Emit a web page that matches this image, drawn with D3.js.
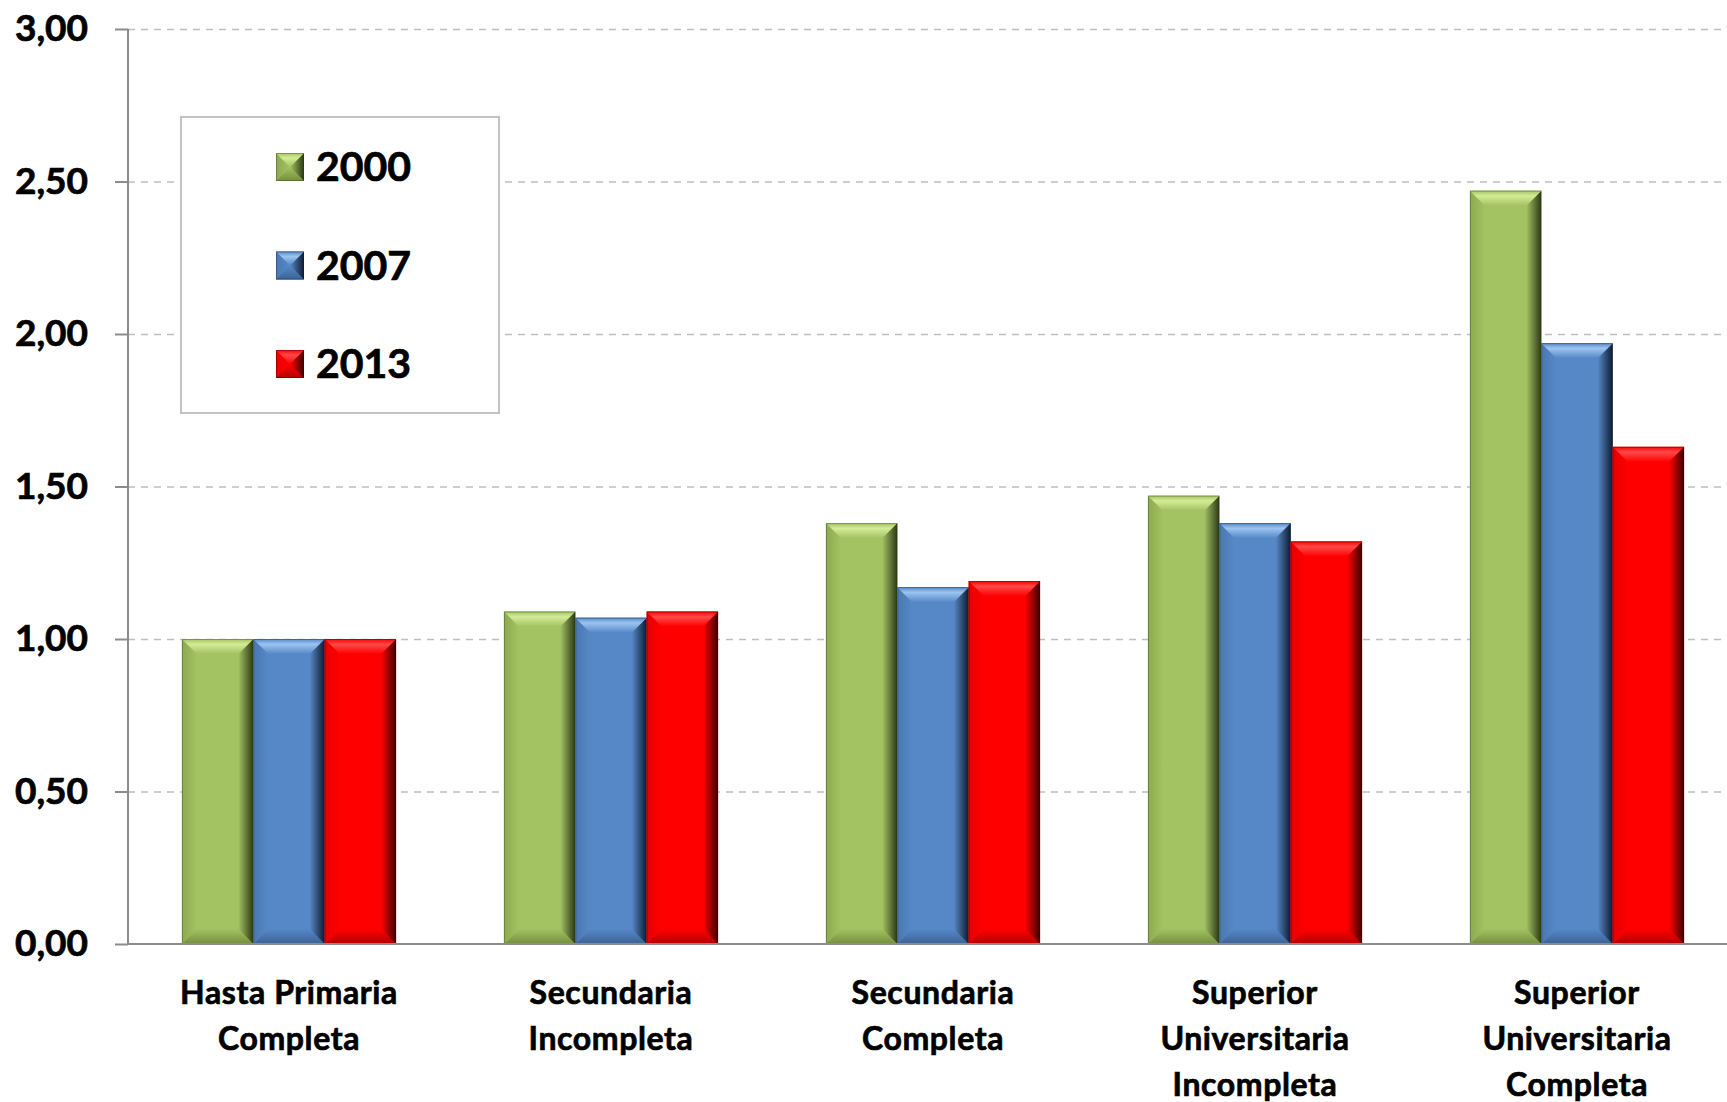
<!DOCTYPE html>
<html>
<head>
<meta charset="utf-8">
<script src="https://cdn.jsdelivr.net/npm/d3@7"></script>
<style>
  html, body { margin: 0; padding: 0; background: #ffffff; }
  svg { display: block; }
  text { font-family: "Lato", "Open Sans", sans-serif; font-weight: 700; fill: #000; stroke: #000; stroke-width: 0.7px; }
</style>
</head>
<body>
<svg id="chart" width="1727" height="1102"></svg>
<script>
// Education levels (multi-line labels) and yearly index values
const categories = [
  "Hasta Primaria\nCompleta",
  "Secundaria\nIncompleta",
  "Secundaria\nCompleta",
  "Superior\nUniversitaria\nIncompleta",
  "Superior\nUniversitaria\nCompleta"
];
const years = ["2000", "2007", "2013"];
const values2000 = [1.00, 1.09, 1.38, 1.47, 2.47];
const values2007 = [1.00, 1.07, 1.17, 1.38, 1.97];
const values2013 = [1.00, 1.09, 1.19, 1.32, 1.63];
const yTicks = [0, 0.5, 1, 1.5, 2, 2.5, 3];

const seriesValues = [values2000, values2007, values2013];

// Fill palettes: base, highlight, shadow, deep shadow
const palettes = {
  "2000": { base: "#a3c262", light: "#d3ec96", left: "#8ea94f", bottom: "#748f3d", dark: "#2c3816" },
  "2007": { base: "#5688c8", light: "#9cc4f0", left: "#4a77b0", bottom: "#3b6394", dark: "#0e1c30" },
  "2013": { base: "#ff0000", light: "#ff4a4a", left: "#e60000", bottom: "#b00000", dark: "#3a0000" }
};

const svg = d3.select("#chart");
const defs = svg.append("defs");

years.forEach(yr => {
  const p = palettes[yr];
  const top = defs.append("linearGradient").attr("id", "top-" + yr)
    .attr("x1", 0).attr("y1", 0).attr("x2", 0).attr("y2", 1);
  top.append("stop").attr("offset", "0%").attr("stop-color", p.base);
  top.append("stop").attr("offset", "35%").attr("stop-color", p.light);
  top.append("stop").attr("offset", "100%").attr("stop-color", p.base);

  const right = defs.append("linearGradient").attr("id", "right-" + yr)
    .attr("x1", 0).attr("y1", 0).attr("x2", 1).attr("y2", 0);
  right.append("stop").attr("offset", "0%").attr("stop-color", p.base);
  right.append("stop").attr("offset", "100%").attr("stop-color", p.dark);

  const bottom = defs.append("linearGradient").attr("id", "bottom-" + yr)
    .attr("x1", 0).attr("y1", 0).attr("x2", 0).attr("y2", 1);
  bottom.append("stop").attr("offset", "0%").attr("stop-color", p.base);
  bottom.append("stop").attr("offset", "100%").attr("stop-color", p.bottom);

  const left = defs.append("linearGradient").attr("id", "left-" + yr)
    .attr("x1", 0).attr("y1", 0).attr("x2", 1).attr("y2", 0);
  left.append("stop").attr("offset", "0%").attr("stop-color", p.left);
  left.append("stop").attr("offset", "100%").attr("stop-color", p.base);
});

// Scales
const plotLeft = 128, plotRight = 1738, plotTop = 29, plotBottom = 944;
const x = d3.scaleBand().domain(categories).range([plotLeft, plotRight])
  .paddingInner(0.335).paddingOuter(0.1675);
const xs = d3.scaleBand().domain(years).range([0, x.bandwidth()]);
const y = d3.scaleLinear().domain([0, 3]).range([plotBottom, plotTop]);

const fmt = v => d3.format(".2f")(v).replace(".", ",");

// Dashed gridlines
const grid = svg.append("g").attr("transform", `translate(${plotLeft},0)`)
  .call(d3.axisRight(y).tickValues(yTicks.filter(t => t > 0)).tickSize(1727 - plotLeft).tickFormat(""));
grid.select(".domain").remove();
grid.selectAll(".tick line").attr("stroke", "#bfbfbf").attr("stroke-width", 1.6)
  .attr("stroke-dasharray", "7,6");

// Bevelled bar drawing
function bevelBar(g, bx, by, w, h, yr, bevel) {
  const b = Math.min(bevel, w / 2, h / 2);
  const pts = a => a.map(p => p.join(",")).join(" ");
  g.append("rect").attr("x", bx).attr("y", by).attr("width", w).attr("height", h)
    .attr("fill", palettes[yr].base);
  g.append("polygon").attr("points", pts([[bx, by], [bx + b, by + b], [bx + b, by + h - b], [bx, by + h]]))
    .attr("fill", `url(#left-${yr})`);
  g.append("polygon").attr("points", pts([[bx, by + h], [bx + b, by + h - b], [bx + w - b, by + h - b], [bx + w, by + h]]))
    .attr("fill", `url(#bottom-${yr})`);
  g.append("polygon").attr("points", pts([[bx + w, by], [bx + w, by + h], [bx + w - b, by + h - b], [bx + w - b, by + b]]))
    .attr("fill", `url(#right-${yr})`);
  g.append("polygon").attr("points", pts([[bx, by], [bx + w, by], [bx + w - b, by + b], [bx + b, by + b]]))
    .attr("fill", `url(#top-${yr})`);
  g.append("rect").attr("x", bx + 0.5).attr("y", by + 0.5).attr("width", w - 1).attr("height", h - 1)
    .attr("fill", "none").attr("stroke", palettes[yr].dark).attr("stroke-opacity", 0.35).attr("stroke-width", 1);
}

// Bars
const barsG = svg.append("g");
categories.forEach((cat, ci) => {
  years.forEach((yr, si) => {
    const v = seriesValues[si][ci];
    const bx = x(cat) + xs(yr);
    const by = y(v);
    bevelBar(barsG.append("g"), bx, by, xs.bandwidth(), y(0) - by, yr, 15);
  });
});

// Y axis with ticks and labels
const yAxis = svg.append("g").attr("transform", `translate(${plotLeft},0)`)
  .call(d3.axisLeft(y).tickValues(yTicks).tickSize(13).tickPadding(27).tickFormat(fmt));
yAxis.select(".domain").attr("stroke", "#8c8c8c").attr("stroke-width", 2)
  .attr("d", `M0,${plotTop}V${plotBottom}`);
yAxis.selectAll(".tick line").attr("stroke", "#8c8c8c").attr("stroke-width", 2);
yAxis.selectAll(".tick text").style("font-size", "37px").style("font-family", "Lato, 'Open Sans', sans-serif")
  .style("font-weight", 700).attr("fill", "#000");

// Horizontal baseline
svg.append("line").attr("x1", plotLeft).attr("x2", 1727).attr("y1", y(0)).attr("y2", y(0))
  .attr("stroke", "#8c8c8c").attr("stroke-width", 2);

// Category labels
const xLabels = svg.append("g");
categories.forEach(cat => {
  const t = xLabels.append("text").attr("text-anchor", "middle")
    .attr("x", x(cat) + x.bandwidth() / 2).attr("y", 1004)
    .style("font-size", "32px").style("letter-spacing", "0.6px");
  cat.split("\n").forEach((line, i) => {
    t.append("tspan").attr("x", x(cat) + x.bandwidth() / 2).attr("y", 1004 + i * 46).text(line);
  });
});

// Legend
const legend = svg.append("g");
legend.append("rect").attr("x", 181).attr("y", 117).attr("width", 318).attr("height", 296)
  .attr("fill", "#fff").attr("stroke", "#c4c4c4").attr("stroke-width", 2);
years.forEach((yr, i) => {
  const baseY = 181 + i * 98.5;
  bevelBar(legend.append("g"), 276, baseY - 28, 28, 28, yr, 14);
  legend.append("text").attr("x", 316).attr("y", baseY).style("font-size", "41px").text(yr);
});
</script>
</body>
</html>
